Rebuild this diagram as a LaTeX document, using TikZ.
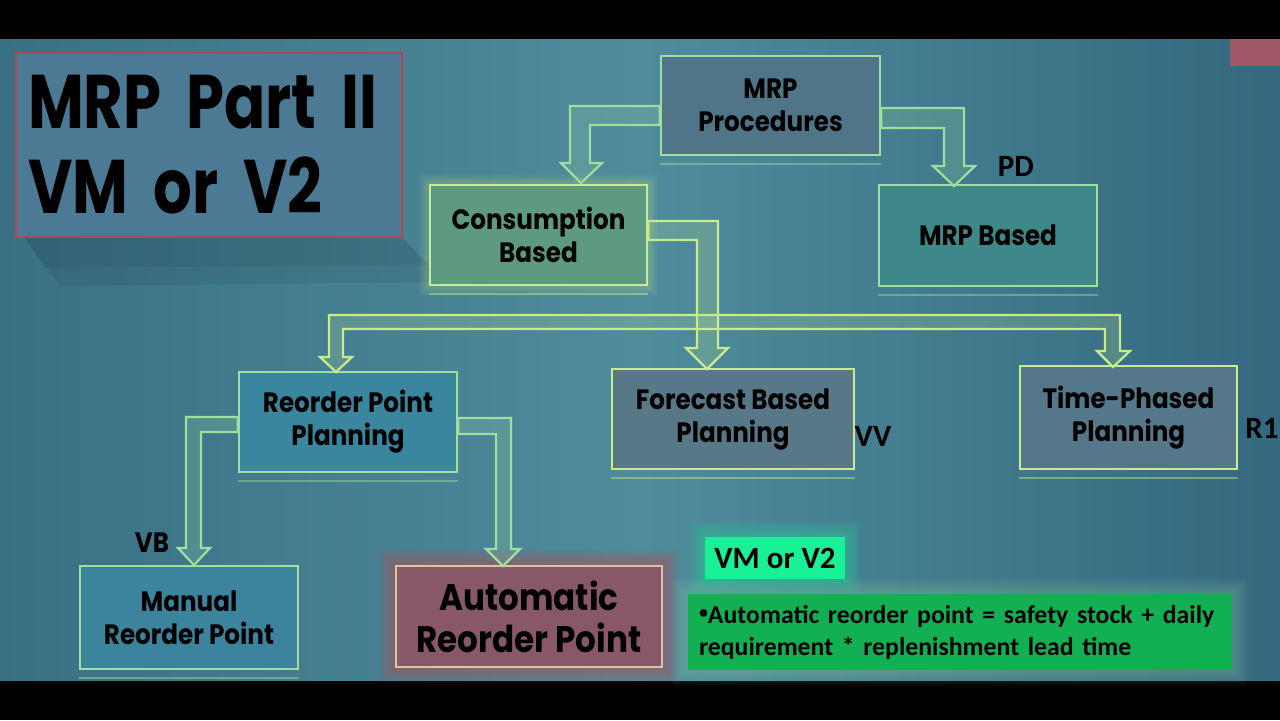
\documentclass[tikz,border=0pt]{standalone}
\usepackage{fontspec}
\newfontfamily\gothic{Poppins}[FakeStretch=0.88]
\newfontfamily\gothicT{Poppins}[FakeStretch=0.8]
\newfontfamily\cali{Carlito}
\usetikzlibrary{calc}
\pgfdeclarelayer{bg}
\pgfsetlayers{bg,main}
\definecolor{bgL}{RGB}{58,112,132}
\definecolor{bgM}{RGB}{78,140,156}
\definecolor{bgR}{RGB}{52,104,126}
\definecolor{titleF}{RGB}{76,122,148}
\definecolor{titleD}{RGB}{176,70,88}
\definecolor{procF}{RGB}{80,116,136}
\definecolor{consF}{RGB}{94,154,130}
\definecolor{mrpbF}{RGB}{62,136,138}
\definecolor{rppF}{RGB}{58,134,158}
\definecolor{fbpF}{RGB}{88,120,136}
\definecolor{tppF}{RGB}{84,120,138}
\definecolor{manF}{RGB}{60,132,158}
\definecolor{autF}{RGB}{136,88,104}
\definecolor{autD}{RGB}{214,200,160}
\definecolor{glowR}{RGB}{200,70,80}
\definecolor{edgeG}{RGB}{160,222,160}
\definecolor{edgeY}{RGB}{200,236,140}
\definecolor{mintF}{RGB}{26,240,150}
\definecolor{greenF}{RGB}{18,176,82}
\definecolor{pinkC}{RGB}{160,88,104}
\newcommand{\smallbul}{{\fontsize{9}{9}\selectfont\raisebox{2.5pt}{\textbullet}}}
\tikzset{
  box/.style={draw=#1, line width=1.2pt, inner sep=0pt, align=center, text=black,
    font=\gothic\bfseries\fontsize{14}{16.5}\selectfont},
  arr/.style={draw=#1, line width=1.1pt, fill=#1, fill opacity=0.2, line join=miter},
  refl/.style={draw=#1, line width=0.9pt, opacity=0.45},
  lbl/.style={inner sep=0pt, text=black, font=\cali\bfseries\fontsize{15.5}{18}\selectfont},
}
\begin{document}
\begin{tikzpicture}[x=0.5pt,y=-0.5pt]
\useasboundingbox (0,0) rectangle (1280,720);
\begin{pgfonlayer}{bg}
\fill[black] (0,0) rectangle (1280,720);
\shade[left color=bgL, right color=bgR, middle color=bgM] (0,39) rectangle (1280,680);
\fill[pinkC] (1230,39) rectangle (1280,66);
\fill[black, opacity=0.07] (24,237) -- (402,237) -- (445,282) -- (60,286) -- cycle;
\fill[black, opacity=0.06] (24,237) -- (402,237) -- (430,265) -- (45,268) -- cycle;
\end{pgfonlayer}

% title
\node[box=titleD, fill=titleF, minimum width=193pt, minimum height=92pt,
  inner xsep=6pt, inner ysep=0pt, text width=181pt, align=left,
  font=\gothicT\bfseries\fontsize{38}{42.5}\selectfont] (title) at (209,145) {MRP Part II\\VM or V2};

% boxes
\node[box=edgeG, fill=procF, minimum width=109.5pt, minimum height=49.5pt] (proc) at (770.5,105.5) {MRP\\Procedures};
\node[box=edgeY, fill=consF, minimum width=108.5pt, minimum height=50pt] (cons) at (538.5,235) {Consumption\\Based};
\node[box=edgeG, fill=mrpbF, minimum width=109pt, minimum height=50.5pt] (mrpb) at (988,235.5) {MRP Based};
\node[box=edgeG, fill=rppF, minimum width=109pt, minimum height=50pt] (rpp) at (348,422) {Reorder Point\\Planning};
\node[box=edgeY, fill=fbpF, minimum width=121pt, minimum height=50pt] (fbp) at (733,419) {Forecast Based\\Planning};
\node[box=edgeY, fill=tppF, minimum width=108.5pt, minimum height=51.5pt] (tpp) at (1128.5,417.5) {Time-Phased\\Planning};
\node[box=edgeG, fill=manF, minimum width=109pt, minimum height=51.5pt] (man) at (189,617.5) {Manual\\Reorder Point};
\node[box=autD, fill=autF, minimum width=133pt, minimum height=50.5pt,
  font=\gothic\bfseries\fontsize{18.5}{21}\selectfont] (aut) at (529,616.5) {Automatic\\Reorder Point};
\node[fill=mintF, minimum width=70pt, minimum height=21pt, inner sep=0pt, text=black,
  font=\cali\bfseries\fontsize{15.5}{18}\selectfont] (vm) at (775,558) {VM or V2};
\node[fill=greenF, minimum width=272pt, minimum height=38pt, inner xsep=5.5pt, inner ysep=0pt,
  text width=261pt, align=left, text=black,
  font=\cali\bfseries\fontsize{12.9}{16}\selectfont] (grn) at (960,632)
  {\smallbul Automatic reorder point = safety stock + daily\\requirement * replenishment lead time};

% labels
\node[lbl] (pd) at (1016,166) {PD};
\node[lbl] (vv) at (873,436) {VV};
\node[lbl] (r1) at (1262,428) {R1};
\node[lbl, font=\gothic\bfseries\fontsize{14}{16}\selectfont] (vb) at (152,543) {VB};

% glows and reflections
\begin{pgfonlayer}{bg}
\foreach \w in {2,4,...,16} {
  \draw[glowR, line width=\w pt, opacity=0.07] (aut.south west) rectangle (aut.north east);
  \draw[mintF, line width=\w pt, opacity=0.05] (vm.south west) rectangle (vm.north east);
  \draw[edgeG, line width=\w pt, opacity=0.04] (grn.south west) rectangle (grn.north east);
  \draw[edgeY, line width=0.6*\w pt, opacity=0.04] (cons.south west) rectangle (cons.north east);
}
\end{pgfonlayer}
\foreach \b/\c in {proc/edgeG, cons/edgeY, mrpb/edgeG, rpp/edgeG, fbp/edgeY, tpp/edgeY, man/edgeG} {
  \draw[refl=\c] ($(\b.south west)+(0,8)$) -- ($(\b.south east)+(0,8)$);
}

% block arrows
\draw[arr=edgeG] (proc.west |- 0,106) -- (570,106) -- (570,163) -- (561,163) -- (581,183)
  -- (602,163) -- (590,163) -- (590,125) -- (proc.west |- 0,125) -- cycle;
\draw[arr=edgeG] (proc.east |- 0,108) -- (964,108) -- (964,166) -- (975,166) -- (954,186)
  -- (933,166) -- (944,166) -- (944,128) -- (proc.east |- 0,128) -- cycle;
\draw[arr=edgeY] (cons.east |- 0,221) -- (718,221) -- (718,348) -- (728,348) -- (707,369)
  -- (686,348) -- (697,348) -- (697,240) -- (cons.east |- 0,240) -- cycle;
\draw[arr=edgeY] (329,315) -- (1120,315) -- (1120,351) -- (1130,351) -- (1113,367)
  -- (1097,351) -- (1105,351) -- (1105,329) -- (343,329) -- (343,357) -- (352,357)
  -- (336,372) -- (320,357) -- (329,357) -- cycle;
\draw[arr=edgeG] (rpp.west |- 0,417) -- (186,417) -- (186,548) -- (178,548) -- (194,565)
  -- (210,548) -- (201,548) -- (201,432) -- (rpp.west |- 0,432) -- cycle;
\draw[arr=edgeG] (rpp.east |- 0,418) -- (511,418) -- (511,549) -- (520,549) -- (503,566)
  -- (486,549) -- (496,549) -- (496,434) -- (rpp.east |- 0,434) -- cycle;
\end{tikzpicture}
\end{document}
